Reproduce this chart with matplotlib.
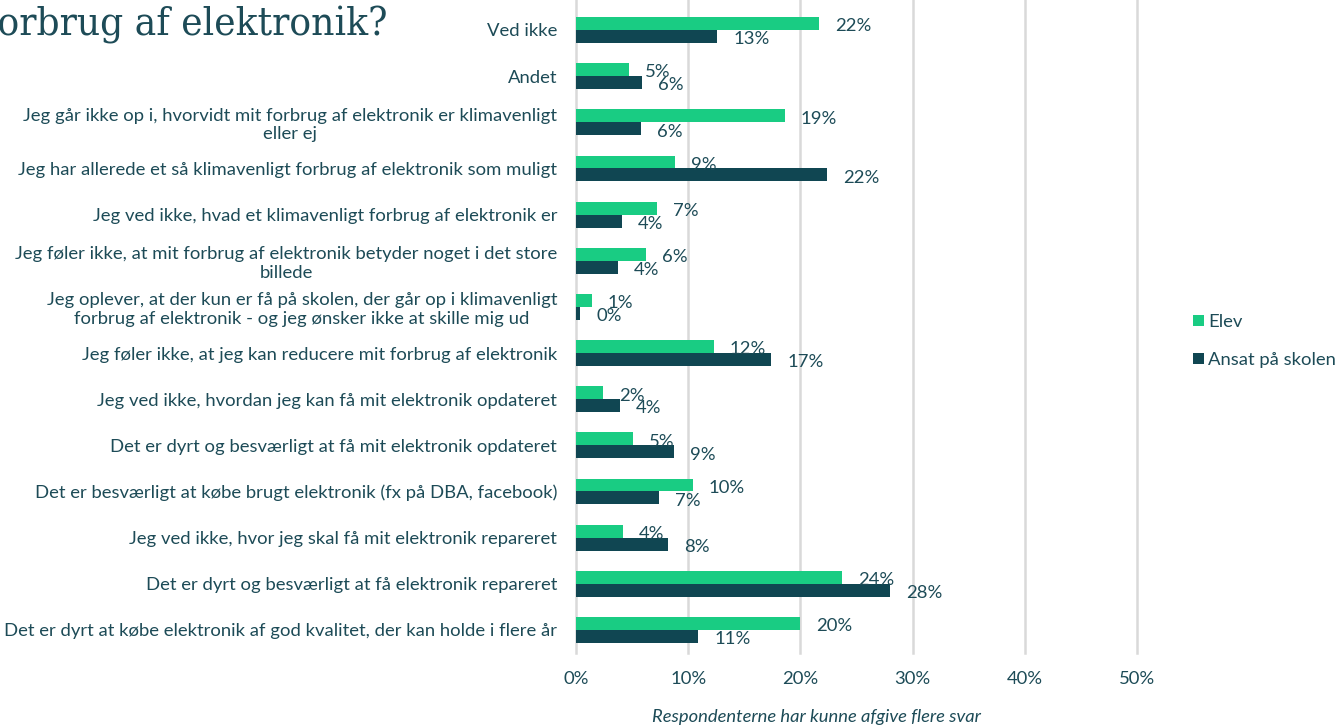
import matplotlib
matplotlib.use("Agg")
import matplotlib.pyplot as plt
import numpy as np

categories = [
    "Ved ikke",
    "Andet",
    "Jeg går ikke op i, hvorvidt mit forbrug af elektronik er klimavenligt\neller ej",
    "Jeg har allerede et så klimavenligt forbrug af elektronik som muligt",
    "Jeg ved ikke, hvad et klimavenligt forbrug af elektronik er",
    "Jeg føler ikke, at mit forbrug af elektronik betyder noget i det store\nbillede",
    "Jeg oplever, at der kun er få på skolen, der går op i klimavenligt\nforbrug af elektronik - og jeg ønsker ikke at skille mig ud",
    "Jeg føler ikke, at jeg kan reducere mit forbrug af elektronik",
    "Jeg ved ikke, hvordan jeg kan få mit elektronik opdateret",
    "Det er dyrt og besværligt at få mit elektronik opdateret",
    "Det er besværligt at købe brugt elektronik (fx på DBA, facebook)",
    "Jeg ved ikke, hvor jeg skal få mit elektronik repareret",
    "Det er dyrt og besværligt at få elektronik repareret",
    "Det er dyrt at købe elektronik af god kvalitet, der kan holde i flere år",
]
elev = [21.7, 4.7, 18.6, 8.8, 7.2, 6.2, 1.4, 12.3, 2.4, 5.1, 10.4, 4.2, 23.7, 20.0]
ansat = [12.6, 5.9, 5.8, 22.4, 4.1, 3.7, 0.4, 17.4, 3.9, 8.7, 7.4, 8.2, 28.0, 10.9]
series_names = ["Elev", "Ansat på skolen"]
xticks = [0, 10, 20, 30, 40, 50]
title = "forbrug af elektronik?"
note = "Respondenterne har kunne afgive flere svar"

GREEN = "#19cc83"
DARK = "#104652"
TXT = "#1d4b57"
FONT = "Lato"
FS = 13.3

W, H = 1339, 727
fig = plt.figure(figsize=(W / 100, H / 100), dpi=100)
ax_left, ax_right, ax_top, ax_bot = 576, 1137, 0, 653
ax = fig.add_axes([ax_left / W, 1 - ax_bot / H, (ax_right - ax_left) / W, (ax_bot - ax_top) / H])

y = np.arange(len(categories))
bh = 0.28
ax.barh(y - bh / 2, elev, height=bh, color=GREEN, label=series_names[0], zorder=3)
ax.barh(y + bh / 2, ansat, height=bh, color=DARK, label=series_names[1], zorder=3)

for yi, v in zip(y, elev):
    ax.annotate(f"{round(v)}%", (v, yi - bh / 2), xytext=(11.5, -2), textcoords="offset points",
                ha="left", va="center", fontsize=FS, color=TXT, family=FONT, zorder=4)
for yi, v in zip(y, ansat):
    ax.annotate(f"{round(v)}%", (v, yi + bh / 2), xytext=(11.5, -2), textcoords="offset points",
                ha="left", va="center", fontsize=FS, color=TXT, family=FONT, zorder=4)

ax.set_xlim(0, 50)
ax.set_ylim(13.5, -0.65)
ax.set_xticks(xticks)
ax.set_xticklabels([f"{t}%" for t in xticks], fontsize=FS, color=TXT, family=FONT)
ax.set_yticks(y)
ax.set_yticklabels(categories, fontsize=FS, color=TXT, family=FONT, multialignment="center")
ax.tick_params(axis="both", length=0)
ax.tick_params(axis="y", pad=13.5)
ax.tick_params(axis="x", pad=13)
for s in ax.spines.values():
    s.set_visible(False)
ax.grid(axis="x", color="#d9d9d9", linewidth=1.8, zorder=0)
for gl in ax.get_xgridlines():
    gl.set_clip_on(False)

leg = fig.legend(loc="center left", bbox_to_anchor=(1186 / W, 1 - 341 / H), frameon=False,
                 prop={"family": FONT, "size": FS}, handlelength=0.6, handleheight=0.6,
                 handletextpad=0.2, labelspacing=1.2, labelcolor=TXT, borderaxespad=0)

fig.text(816 / W, 1 - 717 / H, note, ha="center", va="center", fontsize=13.2, style="italic",
         color=TXT, family=FONT)
fig.text(-16 / W, 1 - 35 / H, title, ha="left", va="baseline", fontsize=29, color=TXT,
         family="DejaVu Serif", fontstretch="condensed")

fig.savefig("out.png", dpi=100)
